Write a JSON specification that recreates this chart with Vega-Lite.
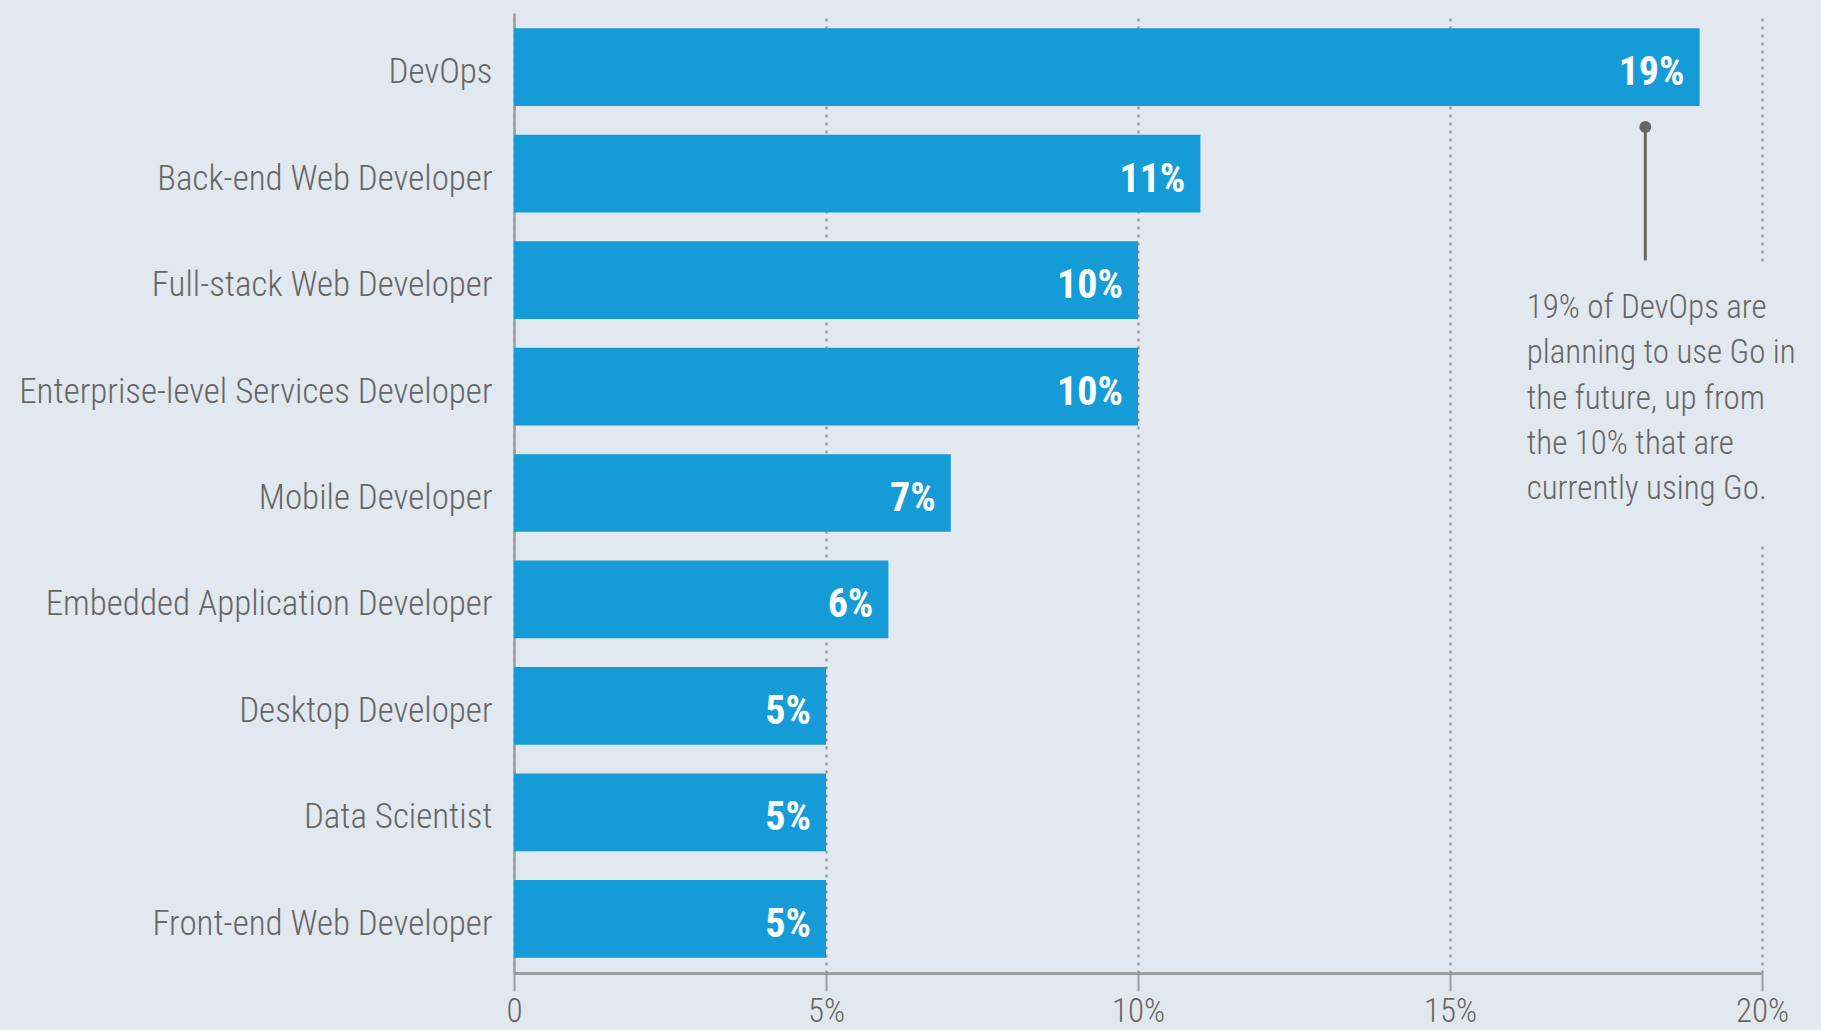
{
  "$schema": "https://vega.github.io/schema/vega-lite/v6.json",
  "width": 1248,
  "height": 960,
  "autosize": {"type": "none"},
  "padding": {"left": 514, "top": 13, "right": 59, "bottom": 57},
  "background": "#e1e8f0",
  "config": {
    "view": {"stroke": null},
    "font": "Roboto Condensed, DejaVu Sans Condensed, Roboto, sans-serif",
    "axis": {"title": null}
  },
  "datasets": {
    "bars": [
      {"role": "DevOps", "pct": 19},
      {"role": "Back-end Web Developer", "pct": 11},
      {"role": "Full-stack Web Developer", "pct": 10},
      {"role": "Enterprise-level Services Developer", "pct": 10},
      {"role": "Mobile Developer", "pct": 7},
      {"role": "Embedded Application Developer", "pct": 6},
      {"role": "Desktop Developer", "pct": 5},
      {"role": "Data Scientist", "pct": 5},
      {"role": "Front-end Web Developer", "pct": 5}
    ],
    "note": [
      {"note": ["19% of DevOps are", "planning to use Go in", "the future, up from", "the 10% that are", "currently using Go."]}
    ]
  },
  "layer": [
    {
      "data": {"name": "bars"},
      "mark": {"type": "bar", "color": "#159cd6"},
      "encoding": {
        "y": {
          "field": "role", "type": "nominal", "title": null,
          "scale": {
            "domain": ["DevOps", "Back-end Web Developer", "Full-stack Web Developer", "Enterprise-level Services Developer", "Mobile Developer", "Embedded Application Developer", "Desktop Developer", "Data Scientist", "Front-end Web Developer"],
            "paddingInner": 0.27, "paddingOuter": 0.144
          },
          "axis": {
            "title": null, "ticks": false, "labelFontSize": 35, "labelColor": "#666666",
            "labelPadding": 22, "labelOffset": 5, "labelFontWeight": 300,
            "domainColor": "#9a9ea3", "domainWidth": 2.5, "labelLimit": 600
          }
        },
        "x": {
          "field": "pct", "type": "quantitative", "title": null,
          "scale": {"domain": [0, 20], "nice": false},
          "axis": {
            "title": null, "values": [0, 5, 10, 15, 20],
            "labelExpr": "datum.value == 0 ? '0' : datum.value + '%'",
            "labelFontSize": 33, "labelColor": "#666666", "labelFontWeight": 300,
            "labelPadding": 4, "labelFlush": false,
            "tickSize": 18, "tickColor": "#9a9ea3", "tickWidth": 2,
            "domainColor": "#9a9ea3", "domainWidth": 3,
            "grid": true, "gridColor": "#8a8f96", "gridDash": [3, 5], "gridWidth": 2
          }
        }
      }
    },
    {
      "data": {"name": "bars"},
      "mark": {"type": "text", "align": "right", "baseline": "middle", "dx": -15, "dy": 6, "color": "white", "fontSize": 40, "fontWeight": "bold", "text": {"expr": "datum.pct + '%'"}},
      "encoding": {
        "y": {"field": "role", "type": "nominal", "title": null},
        "x": {"field": "pct", "type": "quantitative", "title": null}
      }
    },
    {
      "data": {"name": "note"},
      "mark": {"type": "rect", "color": "#e1e8f0"},
      "encoding": {
        "x": {"datum": 19.8, "type": "quantitative", "title": null},
        "x2": {"datum": 20.2},
        "y": {"datum": "Full-stack Web Developer", "type": "nominal", "bandPosition": 0.27, "title": null},
        "y2": {"datum": "Mobile Developer", "bandPosition": 1.17}
      }
    },
    {
      "data": {"name": "note"},
      "mark": {"type": "rule", "color": "#666666", "strokeWidth": 3},
      "encoding": {
        "x": {"datum": 18.13, "type": "quantitative", "title": null},
        "y": {"datum": "DevOps", "type": "nominal", "bandPosition": 1.27, "title": null},
        "y2": {"datum": "Full-stack Web Developer", "bandPosition": 0.246}
      }
    },
    {
      "data": {"name": "note"},
      "mark": {"type": "point", "filled": true, "color": "#666666", "size": 140, "opacity": 1},
      "encoding": {
        "x": {"datum": 18.13, "type": "quantitative", "title": null},
        "y": {"datum": "DevOps", "type": "nominal", "bandPosition": 1.27, "title": null}
      }
    },
    {
      "data": {"name": "note"},
      "mark": {"type": "text", "align": "left", "baseline": "alphabetic", "lineHeight": 45.3, "fontSize": 33, "fontWeight": 300, "color": "#666666"},
      "encoding": {
        "x": {"datum": 16.23, "type": "quantitative", "title": null},
        "y": {"datum": "Full-stack Web Developer", "type": "nominal", "bandPosition": 0.99, "title": null},
        "text": {"field": "note", "type": "nominal"}
      }
    }
  ]
}
